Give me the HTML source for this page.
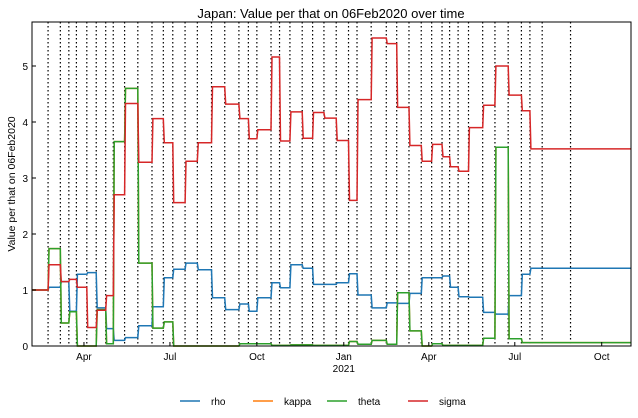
<!DOCTYPE html>
<html><head><meta charset="utf-8"><style>
body{margin:0;background:#fff;}
svg{display:block;font-family:"Liberation Sans",sans-serif;}
</style></head><body>
<svg id="chart" width="638" height="418" xmlns="http://www.w3.org/2000/svg">
<text x="331" y="18" font-size="13" text-anchor="middle">Japan: Value per that on 06Feb2020 over time</text>
<text transform="translate(15,184) rotate(-90)" font-size="10.5" text-anchor="middle">Value per that on 06Feb2020</text>
<g id="grid"></g><g id="series"></g><g id="axes"></g>
<g id="legend"></g>
</svg>
<script>
// day offsets from 2020-02-06
const breaks = [0,17,30,39,47,58,68,78,86,98,112,127,139,149,162,175,190,204,219,229,238,253,262,273,286,297,309,322,335,344,359,375,386,399,412,423,434,442,451,462,477,490,504,518,527,540,634];
const extraLines = [570];
const rho = [1.0,1.05,1.15,0.62,1.28,1.31,0.68,0.31,0.1,0.15,0.36,0.7,1.22,1.37,1.48,1.36,0.86,0.65,0.75,0.62,0.86,1.13,1.04,1.45,1.39,1.1,1.1,1.13,1.29,0.91,0.68,0.77,0.76,0.94,1.22,1.22,1.25,1.05,0.88,0.87,0.6,0.57,0.9,1.28,1.39,1.39];
const theta = [1.0,1.74,0.41,0.61,0,0,0.65,0.04,3.65,4.6,1.48,0.32,0.43,0,0,0,0,0,0.04,0.04,0.04,0.01,0.01,0.02,0.02,0.01,0.01,0.01,0.08,0.03,0.1,0.03,0.95,0.27,0,0.04,0.01,0.01,0.01,0.01,0.14,3.55,0.13,0.06,0.06,0.06];
const kappa = theta.slice();
const sigma = [1.0,1.45,1.15,1.19,1.05,0.33,0.64,0.9,2.7,4.33,3.28,4.06,3.63,2.56,3.3,3.63,4.63,4.32,4.06,3.7,3.86,5.16,3.66,4.18,3.71,4.17,4.07,3.67,2.6,4.4,5.5,5.4,4.26,3.58,3.3,3.6,3.38,3.2,3.12,3.9,4.3,5.0,4.48,4.2,3.52,3.52];
const yTicks = [0,1,2,3,4,5];
const xTickDays = [55,146,238,330,420,511,603];
const xTickLabels = ["Apr","Jul","Oct","Jan","Apr","Jul","Oct"];

const L=32,R=631,T=22,B=346,DMAX=634,VMAX=(B-T)/56;
const xs=d=>L+d*(R-L)/DMAX;
const ys=v=>B-v*(B-T)/VMAX;
const NS="http://www.w3.org/2000/svg";
function mk(tag,attrs,parent){const e=document.createElementNS(NS,tag);for(const k in attrs)e.setAttribute(k,attrs[k]);parent.appendChild(e);return e;}
const grid=document.getElementById('grid'),ser=document.getElementById('series'),ax=document.getElementById('axes'),leg=document.getElementById('legend');

breaks.slice(1,-1).concat(extraLines).forEach(d=>{
  const l=mk('line',{x1:xs(d),x2:xs(d),y1:T,y2:B,stroke:'#000','stroke-width':1.2,'stroke-dasharray':'1.5,2.5'},grid);
  
  
});

function path(vals){
  let p='';
  for(let i=0;i<vals.length;i++){
    const a=breaks[i]+(i?1:0),b=breaks[i+1];
    p+=(i?'L':'M')+xs(a).toFixed(1)+','+ys(vals[i]).toFixed(1)+'L'+xs(b).toFixed(1)+','+ys(vals[i]).toFixed(1);
  }
  return p;
}
const series=[['rho',rho,'#1f77b4'],['kappa',kappa,'#ff7f0e'],['theta',theta,'#2ca02c'],['sigma',sigma,'#d62728']];
series.forEach(s=>{
  const p=mk('path',{d:path(s[1]),fill:'none',stroke:s[2],'stroke-width':1.5},ser);
  
  
});

mk('rect',{x:L,y:T,width:R-L,height:B-T,fill:'none',stroke:'#000','stroke-width':1},ax);
yTicks.forEach(v=>{
  mk('line',{x1:L,x2:L+4,y1:ys(v),y2:ys(v),stroke:'#000'},ax);
  const t=mk('text',{x:L-4,y:ys(v)+4,'font-size':10,'text-anchor':'end'},ax);
  t.textContent=v;
  
  
});
xTickDays.forEach((d,i)=>{
  mk('line',{x1:xs(d),x2:xs(d),y1:B,y2:B-4,stroke:'#000'},ax);
  const t=mk('text',{x:xs(d),y:B+14,'font-size':10,'text-anchor':'middle'},ax);
  t.textContent=xTickLabels[i];
  
  
});
const yr=mk('text',{x:xs(330),y:B+26,'font-size':10,'text-anchor':'middle'},ax);
yr.textContent='2021';



const legX=[180,253,327,408];
series.forEach((s,i)=>{
  const g=mk('g',{},leg);
  
  
  mk('line',{x1:legX[i],x2:legX[i]+20,y1:401,y2:401,stroke:s[2],'stroke-width':1.5},g);
  const t=mk('text',{x:legX[i]+31,y:405,'font-size':10},g);
  t.textContent=s[0];
});
</script>
</body></html>
